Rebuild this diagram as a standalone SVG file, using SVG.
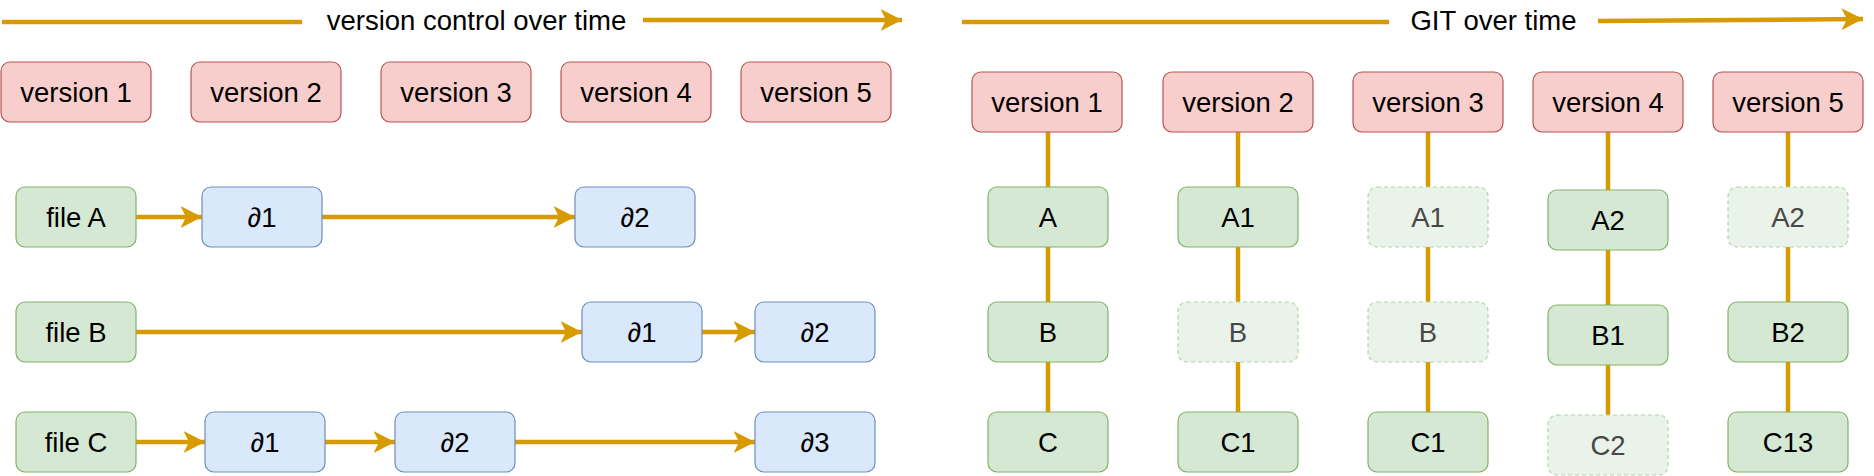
<svg xmlns="http://www.w3.org/2000/svg" width="1874" height="476" viewBox="0 0 1874 476">
<style>
  text { font-family: "Liberation Sans", Arial, Helvetica, sans-serif; font-size: 27.5px; fill: #000; text-anchor: middle; }
  .ver rect { fill: #f8cecc; stroke: #b85450; stroke-width: 1.2; }
  .file rect { fill: #d5e8d4; stroke: #82b366; stroke-width: 1.2; }
  .delta rect { fill: #dae8fc; stroke: #6c8ebf; stroke-width: 1.2; }
  .ghost rect { fill: #eaf3e9; stroke: #b4d3a7; stroke-width: 1.2; stroke-dasharray: 4 3; }
  .ghost text { fill: #474747; }
  .edge { stroke: #d79b00; stroke-width: 4.5; fill: none; }
  .arr { marker-end: url(#ah); }
</style>
<defs>
  <marker id="ah" markerUnits="userSpaceOnUse" markerWidth="22" markerHeight="22" refX="21.5" refY="11" orient="auto" viewBox="0 0 22 22">
    <path d="M0,0 L21.5,11 L0,22 L5.5,11 Z" fill="#d79b00"/>
  </marker>
</defs>

<g id="connectors">
  <!-- titles -->
  <line class="edge" x1="2" y1="22" x2="302" y2="22"/>
  <line class="edge arr" x1="643" y1="20" x2="902" y2="20"/>
  <line class="edge" x1="962" y1="22" x2="1389" y2="22"/>
  <line class="edge arr" x1="1598" y1="21" x2="1863" y2="19"/>
  <!-- row A -->
  <line class="edge arr" x1="136" y1="217" x2="202" y2="217"/>
  <line class="edge arr" x1="322" y1="217" x2="575" y2="217"/>
  <!-- row B -->
  <line class="edge arr" x1="136" y1="332" x2="582" y2="332"/>
  <line class="edge arr" x1="702" y1="332" x2="755" y2="332"/>
  <!-- row C -->
  <line class="edge arr" x1="136" y1="442" x2="205" y2="442"/>
  <line class="edge arr" x1="325" y1="442" x2="395" y2="442"/>
  <line class="edge arr" x1="515" y1="442" x2="755" y2="442"/>
  <!-- git columns -->
  <line class="edge" x1="1048" y1="132" x2="1048" y2="187"/>
  <line class="edge" x1="1048" y1="247" x2="1048" y2="302"/>
  <line class="edge" x1="1048" y1="362" x2="1048" y2="412"/>
  <line class="edge" x1="1238" y1="132" x2="1238" y2="187"/>
  <line class="edge" x1="1238" y1="247" x2="1238" y2="302"/>
  <line class="edge" x1="1238" y1="362" x2="1238" y2="412"/>
  <line class="edge" x1="1428" y1="132" x2="1428" y2="187"/>
  <line class="edge" x1="1428" y1="247" x2="1428" y2="302"/>
  <line class="edge" x1="1428" y1="362" x2="1428" y2="412"/>
  <line class="edge" x1="1608" y1="132" x2="1608" y2="190"/>
  <line class="edge" x1="1608" y1="250" x2="1608" y2="305"/>
  <line class="edge" x1="1608" y1="365" x2="1608" y2="415"/>
  <line class="edge" x1="1788" y1="132" x2="1788" y2="187"/>
  <line class="edge" x1="1788" y1="247" x2="1788" y2="302"/>
  <line class="edge" x1="1788" y1="362" x2="1788" y2="412"/>
</g>

<g id="title-vc"><text x="476.5" y="30">version control over time</text></g>
<g id="title-git"><text x="1493.5" y="30">GIT over time</text></g>

<!-- left: version boxes -->
<g id="vc-v1" class="ver"><rect x="1" y="62" width="150" height="60" rx="9"/><text x="76" y="102">version 1</text></g>
<g id="vc-v2" class="ver"><rect x="191" y="62" width="150" height="60" rx="9"/><text x="266" y="102">version 2</text></g>
<g id="vc-v3" class="ver"><rect x="381" y="62" width="150" height="60" rx="9"/><text x="456" y="102">version 3</text></g>
<g id="vc-v4" class="ver"><rect x="561" y="62" width="150" height="60" rx="9"/><text x="636" y="102">version 4</text></g>
<g id="vc-v5" class="ver"><rect x="741" y="62" width="150" height="60" rx="9"/><text x="816" y="102">version 5</text></g>

<!-- left: files and deltas -->
<g id="fileA" class="file"><rect x="16" y="187" width="120" height="60" rx="9"/><text x="76" y="227">file A</text></g>
<g id="fileB" class="file"><rect x="16" y="302" width="120" height="60" rx="9"/><text x="76" y="342">file B</text></g>
<g id="fileC" class="file"><rect x="16" y="412" width="120" height="60" rx="9"/><text x="76" y="452">file C</text></g>

<g id="A-d1" class="delta"><rect x="202" y="187" width="120" height="60" rx="9"/><text x="262" y="227">∂1</text></g>
<g id="A-d2" class="delta"><rect x="575" y="187" width="120" height="60" rx="9"/><text x="635" y="227">∂2</text></g>
<g id="B-d1" class="delta"><rect x="582" y="302" width="120" height="60" rx="9"/><text x="642" y="342">∂1</text></g>
<g id="B-d2" class="delta"><rect x="755" y="302" width="120" height="60" rx="9"/><text x="815" y="342">∂2</text></g>
<g id="C-d1" class="delta"><rect x="205" y="412" width="120" height="60" rx="9"/><text x="265" y="452">∂1</text></g>
<g id="C-d2" class="delta"><rect x="395" y="412" width="120" height="60" rx="9"/><text x="455" y="452">∂2</text></g>
<g id="C-d3" class="delta"><rect x="755" y="412" width="120" height="60" rx="9"/><text x="815" y="452">∂3</text></g>

<!-- right: version boxes -->
<g id="git-v1" class="ver"><rect x="972" y="72" width="150" height="60" rx="9"/><text x="1047" y="112">version 1</text></g>
<g id="git-v2" class="ver"><rect x="1163" y="72" width="150" height="60" rx="9"/><text x="1238" y="112">version 2</text></g>
<g id="git-v3" class="ver"><rect x="1353" y="72" width="150" height="60" rx="9"/><text x="1428" y="112">version 3</text></g>
<g id="git-v4" class="ver"><rect x="1533" y="72" width="150" height="60" rx="9"/><text x="1608" y="112">version 4</text></g>
<g id="git-v5" class="ver"><rect x="1713" y="72" width="150" height="60" rx="9"/><text x="1788" y="112">version 5</text></g>

<!-- column 1 -->
<g id="g1-A" class="file"><rect x="988" y="187" width="120" height="60" rx="9"/><text x="1048" y="227">A</text></g>
<g id="g1-B" class="file"><rect x="988" y="302" width="120" height="60" rx="9"/><text x="1048" y="342">B</text></g>
<g id="g1-C" class="file"><rect x="988" y="412" width="120" height="60" rx="9"/><text x="1048" y="452">C</text></g>
<!-- column 2 -->
<g id="g2-A1" class="file"><rect x="1178" y="187" width="120" height="60" rx="9"/><text x="1238" y="227">A1</text></g>
<g id="g2-B" class="ghost"><rect x="1178" y="302" width="120" height="60" rx="9"/><text x="1238" y="342">B</text></g>
<g id="g2-C1" class="file"><rect x="1178" y="412" width="120" height="60" rx="9"/><text x="1238" y="452">C1</text></g>
<!-- column 3 -->
<g id="g3-A1" class="ghost"><rect x="1368" y="187" width="120" height="60" rx="9"/><text x="1428" y="227">A1</text></g>
<g id="g3-B" class="ghost"><rect x="1368" y="302" width="120" height="60" rx="9"/><text x="1428" y="342">B</text></g>
<g id="g3-C1" class="file"><rect x="1368" y="412" width="120" height="60" rx="9"/><text x="1428" y="452">C1</text></g>
<!-- column 4 -->
<g id="g4-A2" class="file"><rect x="1548" y="190" width="120" height="60" rx="9"/><text x="1608" y="230">A2</text></g>
<g id="g4-B1" class="file"><rect x="1548" y="305" width="120" height="60" rx="9"/><text x="1608" y="345">B1</text></g>
<g id="g4-C2" class="ghost"><rect x="1548" y="415" width="120" height="60" rx="9"/><text x="1608" y="455">C2</text></g>
<!-- column 5 -->
<g id="g5-A2" class="ghost"><rect x="1728" y="187" width="120" height="60" rx="9"/><text x="1788" y="227">A2</text></g>
<g id="g5-B2" class="file"><rect x="1728" y="302" width="120" height="60" rx="9"/><text x="1788" y="342">B2</text></g>
<g id="g5-C13" class="file"><rect x="1728" y="412" width="120" height="60" rx="9"/><text x="1788" y="452">C13</text></g>
</svg>
